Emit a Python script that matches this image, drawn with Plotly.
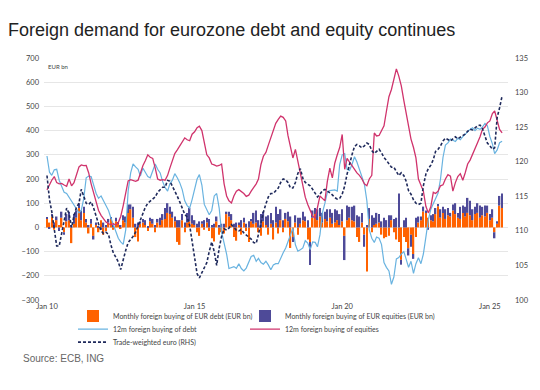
import plotly.graph_objects as go
import pandas as pd

months = pd.date_range("2010-01-01", periods=186, freq="MS")

# Monthly foreign buying of EUR debt (EUR bn)
debt_monthly = [
    35, 20, 45, -10, 30, 10, 40, -20, 25, 30, -65, 15,
    40, 80, 30, 60, 20, -25, 15, -35, 10, -20, 30, -30,
    -15, 20, 35, -10, 25, 15, -5, 30, 20, 60, 75, 40,
    -40, -58, 15, 20, 10, -15, 25, 15, -20, 20, 10, 30,
    35, 60, 55, 40, 25, -60, -72, 30, -20, 20, 25, 15,
    10, -20, -35, 15, -10, 20, -15, -45, -58, 25, -30, -20,
    -25, 55, 45, 30, -40, -55, 10, -30, 20, -15, -60, 25,
    15, 20, -20, -35, 25, 10, -30, 15, -50, 20, -25, 30,
    -20, 35, 25, -85, -40, 20, -30, 15, 30, 25, -50, -60,
    40, 55, 30, 45, 20, 35, 25, 40, 15, 20, 30, 10,
    25, -35, 30, 40, 30, 25, -40, -60, 20, -30, -182, 35,
    -20, 10, 15, 20, -30, -45, -40, -35, 30, -20, -50, -60,
    -134, -40, -60, -86, -30, -110, -40, 20, 30, 66, 60, 40,
    30, 25, 55, 87, 40, 60, 35, 50, 45, 70, 55, 40,
    35, 60, 45, 60, 50, 30, 55, 60, 40, 50, 45, 60,
    30, 40, -20, 15, 90, 80,
]

# Monthly foreign buying of EUR equities (EUR bn)
equity_monthly = [
    5, -5, 10, 20, 15, -15, 25, -10, 30, 35, 10, 40,
    30, 20, 40, 25, 15, 10, 20, -15, 10, 5, -10, 20,
    10, 15, 5, 10, 15, 5, 10, 20, 25, 35, 20, 45,
    15, 20, 10, 15, 20, 5, 15, 20, 10, 15, 30, 25,
    45, 40, 30, 25, 20, 30, 30, 25, 20, 40, 55, 35,
    20, 15, 25, 10, 30, 20, 35, 10, 15, 20, 10, 15,
    15, 10, 20, 25, 15, 20, 10, 30, 20, 15, 25, 10,
    45, 50, 30, 55, 40, 35, 50, 45, 30, 65, 55, 45,
    30, 25, 40, 45, -20, 30, 40, 25, 35, 20, 30, -95,
    30, 25, 45, 35, 40, 30, 50, 35, 45, 55, 40, 45,
    50, -100, 60, 45, 55, 65, 50, 45, 40, -50, 10, 45,
    50, 30, 45, 35, 25, 40, 30, 50, 20, 35, 40, 140,
    -20, 30, 40, -30, -50, -20, 40, 25, 15, 20, 10, -10,
    20, 30, 25, 10, 35, 25, 40, 30, 15, 25, 45, 20,
    50, 30, 40, 62, 60, 45, 30, 40, 50, 35, 45, 30,
    25, 35, -25, 10, 40, 60,
]

# 12m foreign buying of debt
debt_12m = [
    295, 228, 215, 238, 240, 195, 170, 145, 140, 125, 110, 95,
    75, 60, 70, 120, 205, 212, 210, 170, 140, 120, 130, 110,
    90, 70, 40, 10, -15, -45, -60, -70, -10, 150, 225, 262,
    250, 240, 212, 245, 228, 210, 205, 232, 262, 240, 225, 190,
    165, 150, 180, 195, 222, 205, 185, 156, 110, 90, 80, 115,
    165, 200, 218, 175, 95, 70, 52, 70, 130, 140, 80, -20,
    -60, -110, -170, -165, -162, -169, -150, -170, -180, -168, -145, -120,
    -115, -140, -128, -145, -152, -140, -155, -175, -155, -150, -150, -125,
    -105, -85, -60, -30, -3, -72, -98, -92, -85, -55, -65, -92,
    -60, -62, -80, -30, 60, 100, 145, 152, 155, 155, 150, 260,
    300, 305, 240, 235, 260, 292, 270, 240, 215, 180, 110, -10,
    -45, -62, -40, -45, -70, -145, -165, -180, -235, -205, -130, -125,
    -110, -100, -130, -165, -140, -190, -150, -125, -150, -110, -40, 30,
    75, 100, 120, 142, 200, 290, 340, 349, 365, 360, 355, 368,
    362, 375, 385, 395, 405, 412, 400, 410, 405, 415, 430, 420,
    375, 345, 305, 320, 350, 356,
]

# 12m foreign buying of equities
equity_12m = [
    155, 180, 195, 210, 185, 180, 182, 175, 170, 200, 172, 185,
    215, 250, 258, 255, 256, 225, 180, 140, 100, 70, 50, 35,
    22, 15, 12, 15, 10, 20, 45, 90, 150, 192, 197, 195,
    190, 195, 228, 255, 275, 300, 290, 285, 245, 200, 195, 197,
    195, 215, 245, 275, 305, 320, 335, 350, 370, 362, 358, 385,
    395, 412, 418, 400, 355, 300, 287, 262, 258, 253, 256, 262,
    180, 130, 110, 101, 130, 150, 156, 149, 140, 128, 133, 150,
    163, 180, 200, 260, 294, 310, 340, 370, 405, 430, 446, 460,
    455, 440, 380, 330, 287, 322, 273, 215, 160, 125, 95, 70,
    46, 39, 85, 130, 120, 110, 190, 245, 205, 265, 300, 330,
    384, 240, 285, 270, 250, 240, 225, 215, 200, 180, 172, 200,
    215, 390, 378, 380, 400, 420, 480, 540, 570, 610, 655, 625,
    585, 525, 475, 425, 365, 330, 287, 200, 170, 150, 87, 60,
    85, 145, 140, 150, 172, 176, 200, 218, 212, 150, 185, 210,
    222, 195, 225, 262, 278, 305, 330, 350, 375, 405, 415, 432,
    440, 470, 481, 440, 405, 391,
]

# Trade-weighted euro (RHS)
twi_euro = [
    118, 114.5, 112.8, 110.3, 107.8, 107.8, 109.5, 111.5, 113.3, 112.5, 110.5, 112.2,
    113.4, 114, 116, 115, 114, 113.8, 114.2, 113.3, 112, 111, 110, 109.6,
    109.8, 109.5, 108, 106.8, 106.2, 105.5, 104.4, 106, 107.2, 108.3, 108.7, 109.2,
    109.8, 110.7, 111.6, 112.6, 113.4, 114, 114.3, 114.6, 114.9, 115.6, 116, 116.3,
    116.3, 117.3, 117.2, 116.5, 115.7, 115, 114.2, 113.3, 112.4, 112, 110.8, 108.5,
    106.2, 103.8, 103.2, 104, 104.8, 105.4, 107, 108.4, 107, 105, 107.5, 109.2,
    110.3, 110.1, 110.4, 110.9, 110.5, 110.1, 110, 110.2, 109.7, 109.4, 109.1, 108.8,
    108.3, 108.2, 109.5, 111.2, 112.7, 113.9, 114.9, 115.4, 115.4, 115.8, 116.2, 117,
    117.5, 117.4, 117, 116.2, 116.2, 117, 118.3, 119, 117.6, 117, 116.7, 116.5,
    116, 115.5, 114.9, 115.3, 115.8, 116, 115.8, 115.5, 115.2, 114.8, 114.6, 114.7,
    115.3, 116.5, 118.2, 119.8, 121, 122.2, 122.5, 122.3, 122, 122.3, 122.7, 122.5,
    121.6, 121.2, 121.5, 121.8, 121.3, 120.6, 120.2, 119.6, 119.2, 119.2, 118.5, 118,
    118.4, 118, 117.2, 115.8, 115.3, 114.5, 114, 113.8, 114, 116.5, 118.2, 119,
    119.5, 120.3, 121.5, 121.8, 122.3, 123, 123.4, 123.2, 123, 123.3, 123.6, 123.3,
    123.5, 123.7, 124, 124.4, 124.7, 124.6, 124.9, 125.2, 125.3, 124.8, 123.7, 122.7,
    122.3, 121.8, 122, 126.4, 127.8, 129.5,
]

x_tickvals = ["2010-01-01", "2015-01-01", "2020-01-01", "2025-01-01"]
x_ticktext = ["Jan 10", "Jan 15", "Jan 20", "Jan 25"]

ORANGE = "#FF6200"
PURPLE = "#4E4A98"
LIGHTBLUE = "#69B3E0"
PINK = "#D0336C"
NAVY = "#1F2A5C"
TICK_FONT = dict(family="Lato, 'Liberation Sans', sans-serif", size=7.5, color="#444444")
LEG_FONT = dict(family="Lato, 'Liberation Sans', sans-serif", size=7, color="#444444")

fig = go.Figure()
fig.add_bar(x=months, y=debt_monthly, name="Monthly foreign buying of EUR debt (EUR bn)",
            marker=dict(color=ORANGE, line=dict(width=0)), legend="legend")
fig.add_bar(x=months, y=equity_monthly, name="Monthly foreign buying of EUR equities (EUR bn)",
            marker=dict(color=PURPLE, line=dict(width=0)), legend="legend2")
fig.add_scatter(x=months, y=debt_12m, name="12m foreign buying of debt", mode="lines",
                line=dict(color=LIGHTBLUE, width=1.2), legend="legend3")
fig.add_scatter(x=months, y=equity_12m, name="12m foreign buying of equities", mode="lines",
                line=dict(color=PINK, width=1.3), legend="legend4")
fig.add_scatter(x=months, y=twi_euro, name="Trade-weighted euro (RHS)", mode="lines",
                line=dict(color=NAVY, width=1.6, dash="3px,2px"), yaxis="y2", legend="legend5")

leg_common = dict(orientation="h", xanchor="left", yanchor="middle",
                  font=LEG_FONT, bgcolor="rgba(0,0,0,0)", itemwidth=30)
COL1, COL2 = 0.0625, 0.4332
ROW1, ROW2, ROW3 = -0.0663, -0.1202, -0.174

fig.update_layout(
    width=540, height=390,
    margin=dict(l=36, r=40, t=50, b=98),
    paper_bgcolor="white", plot_bgcolor="white",
    barmode="relative", bargap=0.35,
    showlegend=True,
    title=dict(text="Foreign demand for eurozone debt and equity continues",
               x=0.0, xanchor="left", xref="container",
               y=0.944, yanchor="middle", yref="container",
               font=dict(family="'Liberation Sans', Arial, sans-serif", size=18, color="#222222")),
    xaxis=dict(type="date", range=["2009-11-25", "2025-08-13"],
               tickvals=x_tickvals, ticktext=x_ticktext, showgrid=False,
               showline=False, ticks="", zeroline=False, tickfont=TICK_FONT),
    yaxis=dict(range=[-300, 700], dtick=100, tick0=0, showgrid=True,
               gridcolor="#E6E6E6", gridwidth=1, zeroline=False, showline=False,
               ticks="", tickfont=TICK_FONT, ticklabelstandoff=4),
    yaxis2=dict(range=[100, 135], dtick=5, tick0=100, overlaying="y", side="right",
                showgrid=False, zeroline=False, showline=False, ticks="",
                tickfont=TICK_FONT, ticklabelstandoff=6),
    legend=dict(x=COL1, y=ROW1, **leg_common),
    legend2=dict(x=COL2, y=ROW1, **leg_common),
    legend3=dict(x=COL1, y=ROW2, **leg_common),
    legend4=dict(x=COL2, y=ROW2, **leg_common),
    legend5=dict(x=COL1, y=ROW3, **leg_common),
    annotations=[
        dict(text="EUR bn", xref="paper", yref="paper", x=0.005, y=0.965,
             xanchor="left", yanchor="middle", showarrow=False,
             font=dict(family="Lato, 'Liberation Sans', sans-serif", size=6, color="#444444")),
        dict(text="Source: ECB, ING", xref="paper", yref="paper", x=-0.050, y=-0.240,
             xanchor="left", yanchor="middle", showarrow=False,
             font=dict(family="'Liberation Sans', Arial, sans-serif", size=10, color="#666666")),
    ],
)

fig.write_html("out.html")
